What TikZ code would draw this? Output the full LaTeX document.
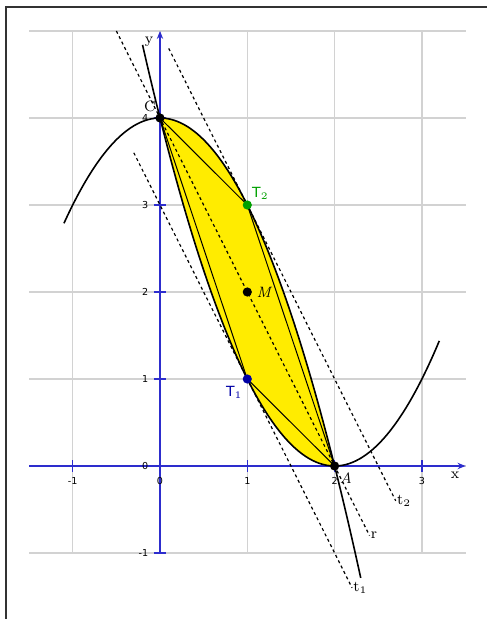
\documentclass[tikz,border=0pt]{standalone}
\usepackage{fontspec}
\newfontfamily\dejavu{DejaVu Sans}
\usetikzlibrary{arrows.meta}
\definecolor{axisblue}{RGB}{45,45,205}
\definecolor{fillyellow}{RGB}{255,236,0}
\definecolor{ptgreen}{RGB}{0,160,0}
\definecolor{ptblue}{RGB}{0,0,165}
\begin{document}
\begin{tikzpicture}[x=43.65pt,y=43.5pt,
  gridline/.style={gray!35,line width=0.6pt},
  axisline/.style={axisblue,line width=0.6pt,-{Stealth[length=4pt,width=3.2pt]}},
  tickmark/.style={axisblue,line width=0.6pt},
  curve/.style={black,line width=0.8pt},
  chord/.style={black,line width=0.5pt},
  tangent/.style={black,line width=0.6pt,dash pattern=on 1.5pt off 1.5pt},
  pt/.style={circle,fill=#1,inner sep=0pt,minimum size=4.6pt},
  lbl/.style={font=\fontsize{7.5}{9}\selectfont,inner sep=0.5pt},
  slbl/.style={font=\dejavu\fontsize{7}{8}\selectfont,inner sep=0.5pt},
  ticklbl/.style={font=\dejavu\fontsize{4.8}{5.5}\selectfont,inner sep=0pt}]
\useasboundingbox (-1.8328,-1.7586) rectangle (3.7457,5.3563);
% frame
\draw[gray!40!black,line width=0.8pt] (-1.764,-1.7586) -- (-1.764,5.276) -- (3.7457,5.276);
% grid
\foreach \i in {-1,0,1,2,3} \draw[gridline] (\i,-1) -- (\i,5);
\foreach \j in {-1,0,1,2,3,4,5} \draw[gridline] (-1.5,\j) -- (3.5,\j);
% coordinates
\coordinate (c) at (0,4);
\coordinate (a) at (2,0);
\coordinate (t1) at (1,1);
\coordinate (t2) at (1,3);
\coordinate (m) at (1,2);
% yellow region
\fill[fillyellow] plot[domain=0:2,samples=60,smooth] (\x,{4-\x*\x})
  -- plot[domain=2:0,samples=60,smooth] (\x,{(\x-2)*(\x-2)}) -- cycle;
% axes
\draw[axisline] (-1.5,0) -- (3.5,0);
\draw[axisline] (0,-1) -- (0,5);
\node[lbl] (xl) at (3.38,-0.11) {x};
\node[lbl] (yl) at (-0.125,4.88) {y};
\foreach \i in {-1,0,1,2,3} {
  \draw[tickmark] (\i,-0.07) -- (\i,0.07);
  \node[ticklbl,anchor=north] (xt\i) at (\i,-0.13) {\i};
}
\foreach \j in {-1,0,1,2,3,4} {
  \draw[tickmark] (-0.07,\j) -- (0.07,\j);
  \node[ticklbl,anchor=east] (yt\j) at (-0.13,\j) {\j};
}
% curves
\draw[curve] plot[domain=-1.1:2.3,samples=90,smooth] (\x,{4-\x*\x});
\draw[curve] plot[domain=-0.2:3.2,samples=90,smooth] (\x,{(\x-2)*(\x-2)});
% chords
\draw[chord] (c) -- (t2) -- (a);
\draw[chord] (c) -- (t1) -- (a);
% tangents and r
\coordinate (t1s) at (-0.3,3.6);  \coordinate (t1e) at (2.2,-1.4);
\coordinate (rs) at (-0.5,5);     \coordinate (re) at (2.4,-0.8);
\coordinate (t2s) at (0.1,4.8);   \coordinate (t2e) at (2.7,-0.4);
\draw[tangent] (t1s) -- (t1e);
\draw[tangent] (rs) -- (re);
\draw[tangent] (t2s) -- (t2e);
\node[lbl,anchor=west] (lt1) at (t1e) {t$_1$};
\node[lbl,anchor=west] (lr) at (re) {r};
\node[lbl,anchor=west] (lt2) at (t2e) {t$_2$};
% points
\node[pt=black] (C) at (c) {};
\node[pt=black] (A) at (a) {};
\node[pt=black] (M) at (m) {};
\node[pt=ptgreen] (T2) at (t2) {};
\node[pt=ptblue] (T1) at (t1) {};
\node[lbl] (lC) at (-0.115,4.13) {C};
\node[lbl] (lA) at (2.13,-0.135) {\itshape A};
\node[lbl] (lM) at (1.19,1.99) {\itshape M};
\node[slbl,text=ptgreen] (lT2) at (1.15,3.13) {T$_2$};
\node[slbl,text=ptblue] (lT1) at (0.85,0.85) {T$_1$};
\end{tikzpicture}
\end{document}
